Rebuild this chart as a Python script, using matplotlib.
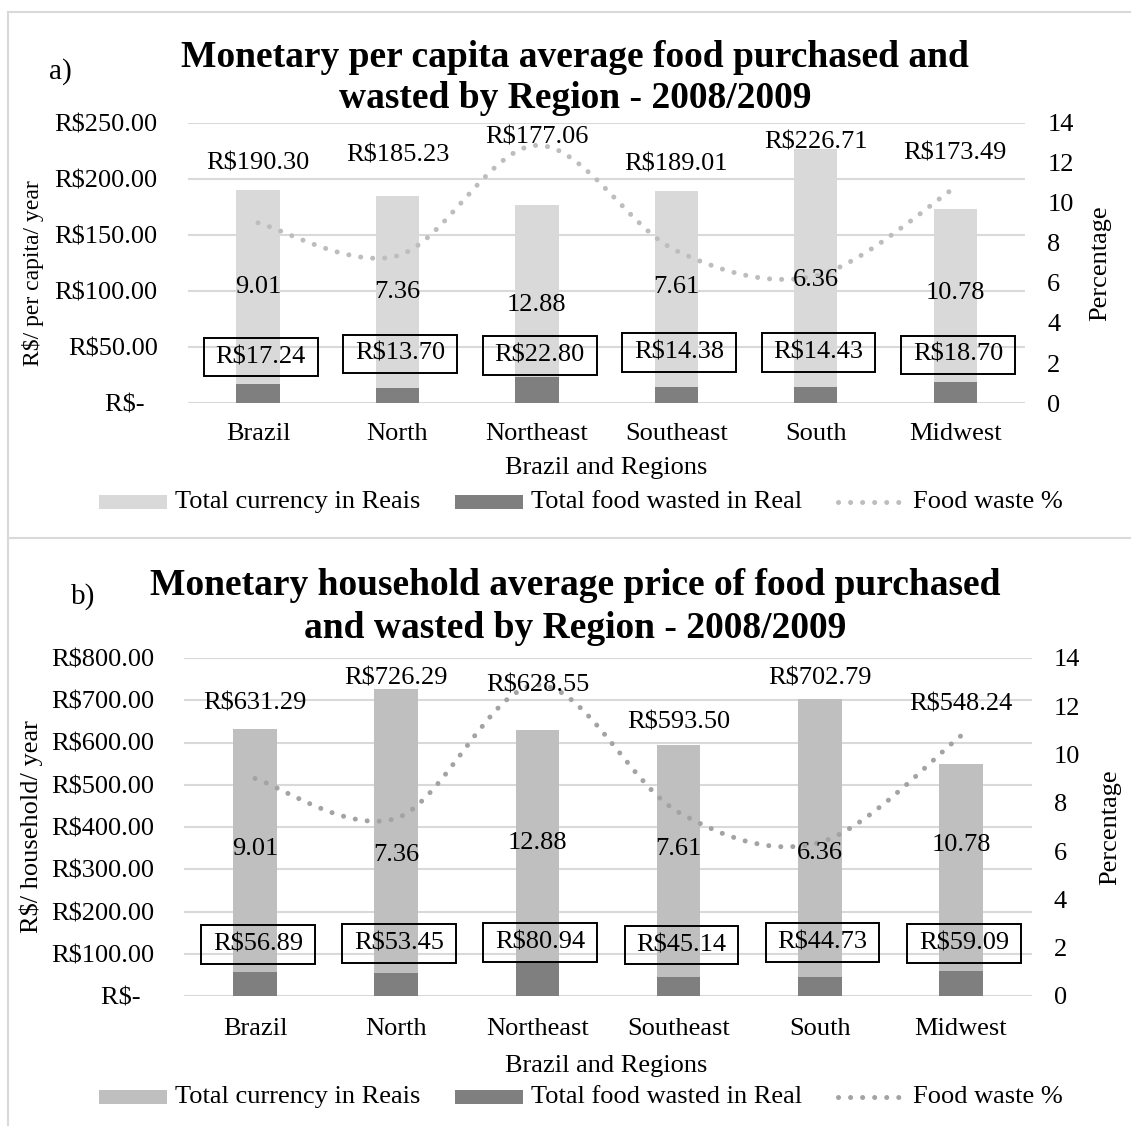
import numpy as np
import matplotlib
matplotlib.use("Agg")
import matplotlib.pyplot as plt
from matplotlib.path import Path
from matplotlib.patches import PathPatch, Rectangle
from matplotlib.lines import Line2D

plt.rcParams['font.family'] = ['Liberation Serif', 'DejaVu Serif']

# ---------------------------------------------------------------- data
regions = ["Brazil", "North", "Northeast", "Southeast", "South", "Midwest"]

capita_total = [190.30, 185.23, 177.06, 189.01, 226.71, 173.49]
capita_wasted = [17.24, 13.70, 22.80, 14.38, 14.43, 18.70]

household_total = [631.29, 726.29, 628.55, 593.50, 702.79, 548.24]
household_wasted = [56.89, 53.45, 80.94, 45.14, 44.73, 59.09]

waste_pct = [9.01, 7.36, 12.88, 7.61, 6.36, 10.78]

capita_ticks = [0, 50, 100, 150, 200, 250]
capita_ticklabels = ["R$-  ", "R$50.00", "R$100.00", "R$150.00", "R$200.00", "R$250.00"]
household_ticks = [0, 100, 200, 300, 400, 500, 600, 700, 800]
household_ticklabels = ["R$-  ", "R$100.00", "R$200.00", "R$300.00", "R$400.00",
                        "R$500.00", "R$600.00", "R$700.00", "R$800.00"]
pct_ticks = [0, 2, 4, 6, 8, 10, 12, 14]

legend_labels = ["Total currency in Reais", "Total food wasted in Real", "Food waste %"]

# label anchor heights (axis units) for the hand-placed data labels
capita_total_label_y = [214, 221, 237, 213, 233, 223]
capita_pct_label_y = [5.8, 5.55, 4.9, 5.8, 6.15, 5.5]
capita_box_label_y = [41, 44, 42.5, 45, 45, 43]
household_total_label_y = [693, 752, 736, 648, 752, 691]
household_pct_label_y = [6.09, 5.84, 6.34, 6.09, 5.92, 6.26]
household_box_label_y = [122, 124, 126.5, 120.5, 126.5, 124]

# ---------------------------------------------------------------- layout
W, H = 1131, 1126
fig = plt.figure(figsize=(W / 100, H / 100), dpi=100)


def fx(x):
    return x / W


def fy(y):
    return 1 - y / H


FS = 19
TITLE_FS = 27
GRID = '#d9d9d9'
WASTE = '#7f7f7f'


def money(v):
    return f"R${v:,.2f}"


def dotted(lw_px):
    lw = lw_px * 0.72
    return lw, (0, (0.01, 12 * 0.72 / lw))


def smooth_path(xs, ys):
    """Cubic Bezier path through the points (Catmull-Rom style smoothing)."""
    pts = np.column_stack([xs, ys]).astype(float)
    n = len(pts)
    verts = [pts[0]]
    codes = [Path.MOVETO]
    for i in range(n - 1):
        p0 = pts[i - 1] if i > 0 else pts[i]
        p1 = pts[i]
        p2 = pts[i + 1]
        p3 = pts[i + 2] if i + 2 < n else pts[i + 1]
        verts += [p1 + (p2 - p0) / 6, p2 - (p3 - p1) / 6, p2]
        codes += [Path.CURVE4] * 3
    return Path(verts, codes)


def panel(rect, total, wasted, ticks, ticklabels, total_color, line_color,
          total_ly, pct_ly, box_ly, line_px, xpad):
    ax = fig.add_axes(rect)
    ax2 = ax.twinx()
    x = np.arange(len(regions))
    ax.bar(x, total, width=0.31, color=total_color, zorder=2)
    ax.bar(x, wasted, width=0.31, color=WASTE, zorder=3)
    ax.set_xlim(-0.5, len(regions) - 0.5)
    ax.set_ylim(ticks[0], ticks[-1])
    ax.set_yticks(ticks)
    ax.set_yticklabels(ticklabels)
    ax.set_xticks(x)
    ax.set_xticklabels(regions)
    ax.yaxis.grid(True, color=GRID, lw=1.5, zorder=0)
    ax.set_axisbelow(True)
    for s in ax.spines.values():
        s.set_visible(False)
    for s in ax2.spines.values():
        s.set_visible(False)
    ax.tick_params(axis='y', length=0, pad=22, labelsize=FS)
    ax.tick_params(axis='x', length=0, pad=xpad, labelsize=FS)
    ax2.set_ylim(0, 14)
    ax2.set_yticks(pct_ticks)
    ax2.set_yticklabels([str(t) for t in pct_ticks])
    ax2.tick_params(axis='y', length=0, pad=16, labelsize=FS)

    lw, ls = dotted(line_px)
    ax2.add_patch(PathPatch(smooth_path(x, waste_pct), fill=False,
                            edgecolor=line_color, lw=lw, linestyle=ls,
                            capstyle='round', zorder=4))

    for i in range(len(regions)):
        ax2.text(x[i], total_ly[i], money(total[i]), transform=ax.transData,
                 ha='center', va='center', fontsize=FS, zorder=6)
        ax2.text(x[i], pct_ly[i], f"{waste_pct[i]:.2f}", ha='center',
                 va='center', fontsize=FS, zorder=6)
        ax2.text(x[i] + 0.02, box_ly[i], money(wasted[i]), transform=ax.transData,
                 ha='center', va='center', fontsize=FS, zorder=6,
                 bbox=dict(boxstyle='square,pad=0.45', fc='none', ec='black',
                           lw=1.4, mutation_aspect=0.69))
    return ax, ax2


# panel a) per capita
panel([fx(188.3), fy(403), 836.7 / W, 280 / H], capita_total, capita_wasted,
      capita_ticks, capita_ticklabels, '#d9d9d9', '#bdbdbd',
      capita_total_label_y, capita_pct_label_y, capita_box_label_y, 5.0, 14.5)

# panel b) household
panel([fx(184.4), fy(996), 847.2 / W, 338 / H], household_total, household_wasted,
      household_ticks, household_ticklabels, '#bfbfbf', '#a3a3a3',
      household_total_label_y, household_pct_label_y, household_box_label_y, 5.0, 16)

# ---------------------------------------------------------------- texts
fig.text(fx(575), fy(67), "Monetary per capita average food purchased and",
         ha='center', va='baseline', fontsize=TITLE_FS, weight='bold')
fig.text(fx(575), fy(108), "wasted by Region - 2008/2009",
         ha='center', va='baseline', fontsize=TITLE_FS, weight='bold')
fig.text(fx(60), fy(72), "a)", ha='center', va='center', fontsize=21)
fig.text(fx(575), fy(595), "Monetary household average price of food purchased",
         ha='center', va='baseline', fontsize=TITLE_FS, weight='bold')
fig.text(fx(575), fy(638), "and wasted by Region - 2008/2009",
         ha='center', va='baseline', fontsize=TITLE_FS, weight='bold')
fig.text(fx(83), fy(597), "b)", ha='center', va='center', fontsize=21)

fig.text(fx(33), fy(273), "R$/ per capita/ year", rotation=90,
         ha='center', va='center', fontsize=17)
fig.text(fx(1100), fy(263), "Percentage", rotation=90,
         ha='center', va='center', fontsize=FS)
fig.text(fx(31), fy(827), "R$/ household/ year", rotation=90,
         ha='center', va='center', fontsize=FS)
fig.text(fx(1110), fy(827), "Percentage", rotation=90,
         ha='center', va='center', fontsize=FS)
fig.text(fx(606), fy(468), "Brazil and Regions", ha='center', va='center', fontsize=FS)
fig.text(fx(606), fy(1066), "Brazil and Regions", ha='center', va='center', fontsize=FS)


def legend(y, total_color, line_color, line_px):
    """Series key drawn as figure artists: two swatches and a dotted sample."""
    for (x0, x1), color in [((99, 167), total_color), ((455, 523), WASTE)]:
        fig.add_artist(Rectangle((fx(x0), fy(y + 7)), (x1 - x0) / W, 14 / H,
                                 transform=fig.transFigure, fc=color, ec='none'))
    lw, ls = dotted(line_px)
    fig.add_artist(Line2D([fx(838), fx(900)], [fy(y), fy(y)], transform=fig.transFigure,
                          color=line_color, lw=lw, linestyle=ls,
                          dash_capstyle='round'))
    for xt, label in zip([175, 531, 913], legend_labels):
        fig.text(fx(xt), fy(y), label, ha='left', va='center', fontsize=FS)


legend(502, '#d9d9d9', '#bdbdbd', 5.0)
legend(1097, '#bfbfbf', '#a3a3a3', 5.0)

# outer frame lines
for xs, ys in [([fx(8), 1], [fy(12), fy(12)]),
               ([fx(8), fx(8)], [fy(12), 0]),
               ([fx(8), 1], [fy(538), fy(538)])]:
    fig.add_artist(Line2D(xs, ys, transform=fig.transFigure, color=GRID, lw=1.5))

fig.savefig("out.png", dpi=100)
